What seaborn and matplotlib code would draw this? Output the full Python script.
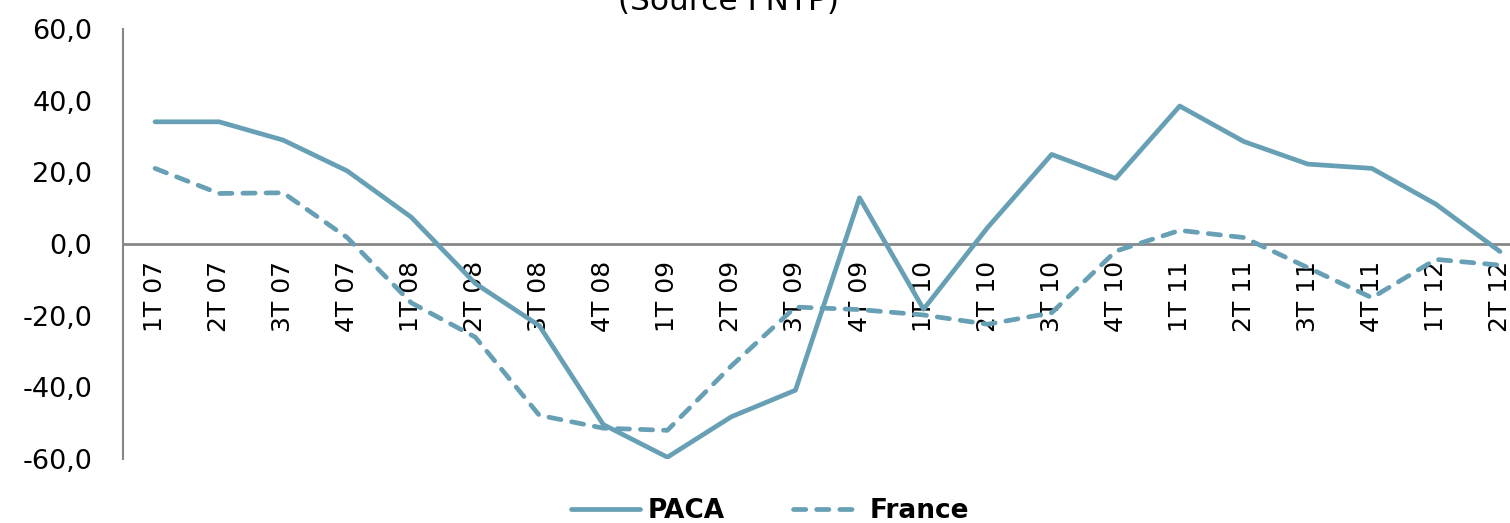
"""
Evolution trimestrielle PACA / France (Source FNTP).
"""

import matplotlib
matplotlib.use("Agg")
import matplotlib.pyplot as plt
import pandas as pd
import seaborn as sns

# Data
quarters = ["1T 07", "2T 07", "3T 07", "4T 07",
            "1T 08", "2T 08", "3T 08", "4T 08",
            "1T 09", "2T 09", "3T 09", "4T 09",
            "1T 10", "2T 10", "3T 10", "4T 10",
            "1T 11", "2T 11", "3T 11", "4T 11",
            "1T 12", "2T 12"]
paca = [34.1, 34.1, 29.0, 20.4, 7.5, -11.0, -22.8, -50.4,
        -59.5, -48.2, -40.8, 12.9, -18.2, 4.6, 25.0, 18.3,
        38.5, 28.6, 22.3, 21.1, 11.1, -2.1]
france = [21.1, 14.1, 14.3, 1.8, -16.4, -26.0, -47.8, -51.4,
          -52.0, -34.0, -17.6, -18.3, -19.8, -22.4, -19.2, -2.0,
          3.8, 1.8, -6.6, -15.0, -4.3, -5.9]
series_names = ["PACA", "France"]
y_ticks = [-60, -40, -20, 0, 20, 40, 60]

LINE_COLOR = "#67A0B5"
AXIS_GRAY = "#878787"

df = pd.DataFrame({
    "trimestre": quarters * 2,
    "valeur": paca + france,
    "serie": [series_names[0]] * len(quarters) + [series_names[1]] * len(quarters),
})

sns.set_style("white")
plt.rcParams["font.family"] = ["DejaVu Sans"]
plt.rcParams["text.color"] = "black"

fig = plt.figure(figsize=(15.1, 5.23), dpi=100)
# axes spans a bit past the right edge, like the cropped original
ax = fig.add_axes([123 / 1510, 1 - 459 / 523, 1409 / 1510, 430 / 523])

sns.lineplot(data=df, x="trimestre", y="valeur", style="serie",
             dashes={"PACA": "", "France": (2.6, 2.3)},
             color=LINE_COLOR, linewidth=3.4, sort=False, legend=False,
             dash_capstyle="round", solid_capstyle="round", ax=ax, zorder=3)

ax.set_xlim(-0.5, len(quarters) - 0.5)
ax.set_ylim(-60, 60)
ax.set_yticks(y_ticks)
ax.set_yticklabels([f"{v:.1f}".replace(".", ",") for v in y_ticks])
ax.tick_params(axis="x", length=0, pad=12, labelrotation=90,
               labelsize=18, labelcolor="black")
ax.tick_params(axis="y", length=0, pad=22, labelsize=19.5, labelcolor="black")
for lbl in ax.get_xticklabels():
    lbl.set_verticalalignment("top")

# axis styling: zero line carries the category labels
for side in ["top", "right"]:
    ax.spines[side].set_visible(False)
ax.spines["bottom"].set_position(("data", 0))
ax.spines["bottom"].set_color(AXIS_GRAY)
ax.spines["bottom"].set_linewidth(2)
ax.spines["bottom"].set_zorder(2)
ax.spines["left"].set_color(AXIS_GRAY)
ax.spines["left"].set_linewidth(1.5)
ax.set_xlabel("")
ax.set_ylabel("")
ax.grid(False)

fig.text(728 / 1510, 1 - 16 / 523, "(Source FNTP)", ha="center",
         va="bottom", fontsize=22.5, color="black")

lines = ax.get_lines()[:2]
fig.legend(lines, series_names, loc="center", bbox_to_anchor=(0.51, 0.022),
           ncol=2, frameon=False, handlelength=2.6, handletextpad=0.3,
           columnspacing=2.6, prop={"weight": "bold", "size": 19},
           labelcolor="black")

fig.savefig("out.png", dpi=100)
